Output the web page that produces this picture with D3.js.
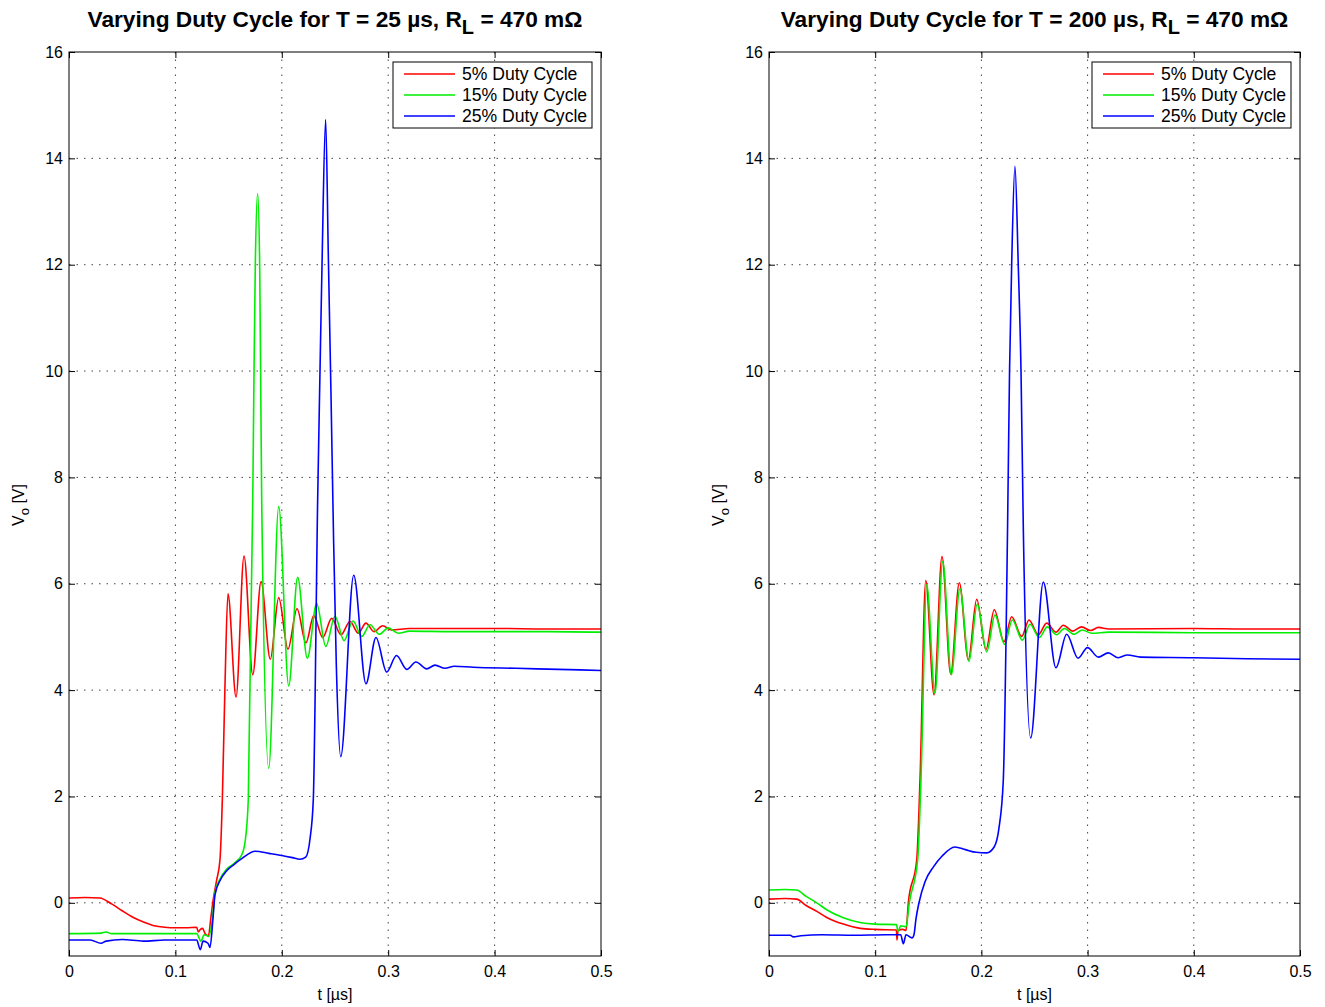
<!DOCTYPE html>
<html><head><meta charset="utf-8">
<script src="https://cdn.jsdelivr.net/npm/d3@7"></script>
<style>body{margin:0;background:#fff}svg{display:block;font-family:"Liberation Sans",Arial,sans-serif}</style>
</head><body>
<svg id="c" width="1325" height="1007"></svg>
<script>
// ---- data ----
const xTicks = [0, 0.1, 0.2, 0.3, 0.4, 0.5];
const yTicks = [0, 2, 4, 6, 8, 10, 12, 14, 16];
const seriesNames = ["5% Duty Cycle", "15% Duty Cycle", "25% Duty Cycle"];
const seriesColors = ["#ff0000", "#00ee00", "#0000ff"];
const titles = [["Varying Duty Cycle for T = 25 \u00b5s, R", "L", " = 470 m\u03a9"],
                ["Varying Duty Cycle for T = 200 \u00b5s, R", "L", " = 470 m\u03a9"]];

// Left panel (T = 25 us) : [t (us), Vo (V)]
const left5 = [[0,0.09],[0.015,0.1],[0.029,0.09],[0.04,-0.02],[0.05,-0.15],[0.06,-0.27],[0.07,-0.36],[0.08,-0.43],[0.09,-0.46],[0.1,-0.47],[0.11,-0.47],[0.12,-0.46],[0.1215,-0.55],[0.1235,-0.5],[0.1255,-0.48],[0.128,-0.58],[0.131,-0.62],[0.1335,-0.25],[0.1351,0.0],[0.1385,0.4],[0.1419,0.81],[0.1441,1.94],[0.1465,4.0],[0.1494,5.81],[0.157,3.87],[0.1645,6.52],[0.1727,4.29],[0.1805,6.04],[0.1892,4.58],[0.1971,5.74],[0.2058,4.77],[0.2143,5.53],[0.2227,4.89],[0.23,5.40],[0.2384,4.99],[0.2469,5.35],[0.2556,5.04],[0.2641,5.29],[0.2719,5.07],[0.2791,5.26],[0.2867,5.10],[0.2948,5.21],[0.303,5.13],[0.32,5.16],[0.36,5.16],[0.4,5.16],[0.45,5.15],[0.5,5.15]];
const left15 = [[0,-0.58],[0.03,-0.57],[0.035,-0.55],[0.04,-0.58],[0.08,-0.58],[0.12,-0.58],[0.124,-0.72],[0.127,-0.6],[0.1316,-0.63],[0.1353,-0.2],[0.1372,0.2],[0.142,0.45],[0.148,0.63],[0.155,0.74],[0.1623,0.9],[0.1655,1.15],[0.1685,1.94],[0.1727,7.58],[0.1739,10],[0.1751,12],[0.1773,13.34],[0.1792,12],[0.1801,10],[0.1811,7.58],[0.1877,2.53],[0.1971,7.45],[0.2065,4.08],[0.2149,6.12],[0.224,4.60],[0.2328,5.63],[0.2413,4.82],[0.25,5.39],[0.2585,4.93],[0.2669,5.30],[0.2751,5.01],[0.2829,5.23],[0.2916,5.05],[0.3001,5.17],[0.3095,5.07],[0.32,5.11],[0.36,5.10],[0.4,5.10],[0.45,5.10],[0.5,5.09]];
const left25 = [[0,-0.7],[0.02,-0.7],[0.03,-0.76],[0.035,-0.72],[0.05,-0.69],[0.07,-0.72],[0.09,-0.7],[0.12,-0.7],[0.1234,-0.88],[0.126,-0.72],[0.1306,-0.76],[0.1325,-0.84],[0.1353,-0.3],[0.1372,0.15],[0.142,0.42],[0.148,0.6],[0.155,0.72],[0.1623,0.83],[0.175,0.97],[0.188,0.93],[0.2,0.89],[0.21,0.85],[0.217,0.82],[0.2225,0.86],[0.2265,1.2],[0.2296,1.94],[0.2337,7.58],[0.2359,10],[0.2378,12],[0.2412,14.73],[0.2437,12.2],[0.2462,9.6],[0.2487,6.8],[0.2512,4.5],[0.2554,2.75],[0.2676,6.16],[0.2791,4.12],[0.2885,4.99],[0.2986,4.34],[0.3078,4.65],[0.3174,4.39],[0.3261,4.53],[0.3362,4.40],[0.344,4.47],[0.3534,4.41],[0.3621,4.45],[0.38,4.43],[0.42,4.41],[0.46,4.39],[0.5,4.37]];

// Right panel (T = 200 us)
const right5 = [[0,0.07],[0.015,0.08],[0.026,0.07],[0.035,-0.05],[0.045,-0.16],[0.054,-0.27],[0.07,-0.4],[0.086,-0.48],[0.1,-0.5],[0.12,-0.51],[0.1205,-0.7],[0.1215,-0.52],[0.126,-0.5],[0.129,-0.52],[0.1312,0],[0.1391,0.81],[0.1422,2.31],[0.1476,6.06],[0.1554,3.91],[0.1629,6.51],[0.1711,4.30],[0.1792,6.02],[0.1877,4.57],[0.1956,5.71],[0.2043,4.76],[0.2121,5.51],[0.2213,4.91],[0.2285,5.38],[0.2379,5.01],[0.2448,5.32],[0.2536,5.04],[0.2615,5.26],[0.2702,5.09],[0.2771,5.22],[0.286,5.11],[0.2944,5.19],[0.3029,5.12],[0.3101,5.18],[0.32,5.15],[0.4,5.16],[0.45,5.15],[0.5,5.15]];
const right15 = [[0,0.24],[0.015,0.25],[0.026,0.24],[0.035,0.12],[0.045,0.0],[0.0543,-0.13],[0.07,-0.28],[0.0857,-0.37],[0.1,-0.4],[0.12,-0.41],[0.1215,-0.54],[0.124,-0.43],[0.129,-0.45],[0.1321,0],[0.14,0.81],[0.1431,2.31],[0.1485,5.98],[0.1563,3.94],[0.1636,6.42],[0.1717,4.29],[0.1798,5.91],[0.1883,4.54],[0.1961,5.62],[0.205,4.72],[0.2128,5.41],[0.2219,4.86],[0.2291,5.32],[0.2385,4.94],[0.2458,5.24],[0.2545,4.99],[0.2621,5.19],[0.2709,5.04],[0.2781,5.16],[0.2872,5.05],[0.295,5.13],[0.3039,5.07],[0.32,5.09],[0.4,5.08],[0.45,5.08],[0.5,5.08]];
const right25 = [[0,-0.61],[0.02,-0.61],[0.023,-0.64],[0.03,-0.62],[0.05,-0.6],[0.08,-0.61],[0.11,-0.6],[0.124,-0.6],[0.1265,-0.77],[0.129,-0.6],[0.1347,-0.66],[0.1365,-0.6],[0.1384,-0.3],[0.1412,0.0],[0.147,0.4],[0.155,0.68],[0.163,0.88],[0.175,1.05],[0.185,1.0],[0.195,0.95],[0.205,0.94],[0.212,1.05],[0.2165,1.4],[0.2206,2.3],[0.2246,7.0],[0.2265,10],[0.2285,12],[0.2316,13.85],[0.2347,12],[0.2373,10],[0.2395,7.0],[0.2464,3.10],[0.2583,6.03],[0.2702,4.42],[0.2803,5.05],[0.291,4.60],[0.2999,4.80],[0.3101,4.62],[0.3195,4.70],[0.3289,4.61],[0.3374,4.66],[0.35,4.62],[0.4,4.61],[0.45,4.59],[0.5,4.58]];

const panels = [
  {x0: 69, x1: 601, title: titles[0], data: [left5, left15, left25]},
  {x0: 769, x1: 1300, title: titles[1], data: [right5, right15, right25]}
];

// ---- drawing ----
const svg = d3.select("#c");
const plotTop = 52, plotBottom = 956;

panels.forEach((p, i) => {
  const x = d3.scaleLinear().domain([0, 0.5]).range([p.x0, p.x1]);
  const y = d3.scaleLinear().domain([-1, 16]).range([plotBottom, plotTop]);
  const g = svg.append("g");

  // grid
  g.selectAll(".gx").data(xTicks.slice(1, -1)).join("line")
    .attr("x1", d => x(d)).attr("x2", d => x(d)).attr("y1", plotTop).attr("y2", plotBottom)
    .attr("stroke", "#444").attr("stroke-width", 1).attr("stroke-dasharray", "1.5,6");
  g.selectAll(".gy").data(yTicks.slice(0, -1)).join("line")
    .attr("y1", d => y(d)).attr("y2", d => y(d)).attr("x1", p.x0).attr("x2", p.x1)
    .attr("stroke", "#444").attr("stroke-width", 1).attr("stroke-dasharray", "1.5,6");

  // clip
  const cid = "clip" + i;
  svg.append("clipPath").attr("id", cid).append("rect")
    .attr("x", p.x0).attr("y", plotTop).attr("width", p.x1 - p.x0).attr("height", plotBottom - plotTop);

  const line = d3.line().x(d => x(d[0])).y(d => y(d[1])).curve(d3.curveMonotoneX);
  const lg = g.append("g").attr("clip-path", `url(#${cid})`);
  p.data.forEach((s, k) => {
    lg.append("path").attr("d", line(s)).attr("fill", "none")
      .attr("stroke", seriesColors[k]).attr("stroke-width", 1.6).attr("stroke-linejoin", "round");
  });

  // axes with inward ticks on all sides
  const axB = d3.axisBottom(x).tickValues(xTicks).tickSizeInner(-6).tickSizeOuter(0).tickPadding(10).tickFormat(d => d === 0 ? "0" : d3.format(".1f")(d));
  const axT = d3.axisTop(x).tickValues(xTicks).tickSizeInner(-6).tickSizeOuter(0).tickFormat("");
  const axL = d3.axisLeft(y).tickValues(yTicks).tickSizeInner(-6).tickSizeOuter(0).tickPadding(6).tickFormat(d3.format("d"));
  const axR = d3.axisRight(y).tickValues(yTicks).tickSizeInner(-6).tickSizeOuter(0).tickFormat("");
  [[axB, `translate(0,${plotBottom})`], [axT, `translate(0,${plotTop})`], [axL, `translate(${p.x0},0)`], [axR, `translate(${p.x1},0)`]]
    .forEach(([ax, tr]) => {
      const a = g.append("g").attr("transform", tr).call(ax);
      a.select(".domain").remove();
      a.selectAll("line").attr("stroke", "#000");
      a.selectAll("text").attr("font-size", 16).attr("fill", "#000").attr("font-family", "Liberation Sans, Arial, sans-serif");
    });
  g.append("rect").attr("x", p.x0).attr("y", plotTop).attr("width", p.x1 - p.x0).attr("height", plotBottom - plotTop)
    .attr("fill", "none").attr("stroke", "#000").attr("stroke-width", 1);

  // title
  const cx = (p.x0 + p.x1) / 2;
  const t = g.append("text").attr("x", cx).attr("y", 27).attr("text-anchor", "middle")
    .attr("font-size", 22.7).attr("font-weight", "bold").attr("fill", "#000");
  t.append("tspan").text(p.title[0]);
  t.append("tspan").attr("dy", 7).attr("font-size", 20).text(p.title[1]);
  t.append("tspan").attr("dy", -7).text(p.title[2]);

  // axis labels
  g.append("text").attr("x", cx).attr("y", 1000).attr("text-anchor", "middle")
    .attr("font-size", 16).text("t [\u00b5s]");
  const yl = g.append("text").attr("transform", `translate(${p.x0 - 45},505) rotate(-90)`)
    .attr("text-anchor", "middle").attr("font-size", 16);
  yl.append("tspan").text("V");
  yl.append("tspan").attr("dy", 5).attr("font-size", 13).text("o");
  yl.append("tspan").attr("dy", -5).text(" [V]");

  // legend
  const lx = p.x1 - 208, ly = 62;
  const leg = g.append("g");
  leg.append("rect").attr("x", lx).attr("y", ly).attr("width", 199).attr("height", 66)
    .attr("fill", "#fff").attr("stroke", "#000").attr("stroke-width", 1);
  seriesNames.forEach((nm, k) => {
    const yy = ly + 12 + k * 21;
    leg.append("line").attr("x1", lx + 11).attr("x2", lx + 62).attr("y1", yy).attr("y2", yy)
      .attr("stroke", seriesColors[k]).attr("stroke-width", 1.5);
    leg.append("text").attr("x", lx + 69).attr("y", yy + 6).attr("font-size", 17.6).text(nm);
  });
});
</script>
</body></html>
